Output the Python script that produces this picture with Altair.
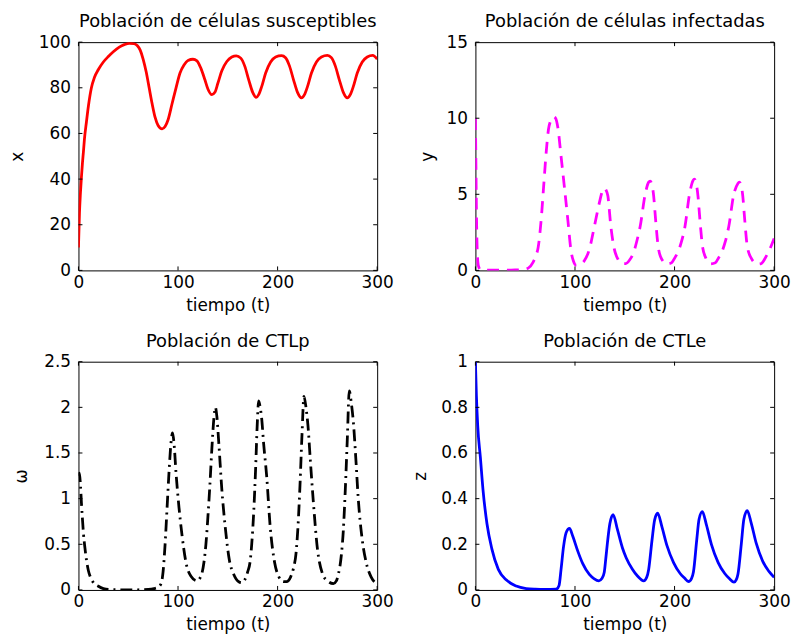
import altair as alt
import pandas as pd

# ---------------- data ----------------
# Panel 1: susceptible cells x(t)
t_x = [0, 1, 2, 3, 4, 5, 6, 8, 10, 13, 16, 20, 25, 30, 35, 41, 46, 51, 56, 59,
       62, 65, 68, 71, 74, 77, 80, 84, 87, 90, 94, 98, 102, 106, 110, 115, 119,
       123, 127, 130, 134, 137, 140, 144, 149, 154, 158.5, 163, 167, 171, 175,
       178.5, 181, 184, 188, 193, 198, 204, 208, 212, 216, 220, 224, 227, 230,
       234, 239, 244, 250, 254, 258, 262, 266, 270, 273, 276, 280, 285, 290,
       295.5, 300]
x_vals = [10, 25, 34, 41, 47, 52, 57.5, 65, 72, 80, 84.5, 88, 91.3, 93.7, 95.8,
          97.8, 98.9, 99.5, 99.3, 98.5, 96.5, 92.5, 87, 80, 73, 67, 63.5, 62, 63,
          66, 73, 80, 86.5, 90, 92, 92.5, 91.8, 88.5, 83.5, 79.5, 77, 78, 82,
          87.5, 91.5, 93.5, 94, 93, 89.5, 83.5, 78, 75.8, 77, 80.5, 86.5, 91.3,
          93.5, 94.1, 93.2, 89.5, 83.5, 78, 75.6, 77, 80.5, 86.5, 91.3, 93.5,
          94.2, 93.2, 89.5, 83.5, 78, 75.6, 77, 80.5, 86.5, 91.3, 93.5, 94.2,
          92.6]

# Panel 2: infected cells y(t)
t_y = [0, 0.5, 1, 1.5, 2, 3, 5, 10, 20, 30, 40, 48, 53, 58, 61, 63, 66, 68.5,
       71, 74, 78.5, 80.5, 83, 86, 89.5, 93, 96, 98.5, 101, 105, 109.5, 114.5,
       119.5, 124.5, 128, 129.5, 131, 133, 136, 139.5, 143, 147, 151, 155, 159,
       162, 165.5, 170.5, 174, 175.5, 177, 179, 181, 183.5, 187, 192.5, 197,
       200, 204, 207, 210.5, 215, 218.5, 220, 221.5, 223.5, 225.5, 228, 231.5,
       236, 241, 244, 248, 251, 254.5, 259.5, 263.5, 265, 266.5, 268.5, 270.5,
       273, 277, 283, 287, 291, 295, 300]
y_vals = [10, 7, 4, 2, 1, 0.3, 0.05, 0.02, 0.01, 0.01, 0.03, 0.06, 0.15, 0.55,
          1.0, 1.5, 3.3, 5.5, 7.7, 9.5, 10.1, 10.0, 9.3, 7.5, 5.4, 3.2, 1.3, 0.6,
          0.35, 0.4, 0.65, 1.4, 2.9, 4.45, 5.3, 5.4, 5.3, 4.9, 2.9, 1.4, 0.75,
          0.45, 0.45, 0.7, 1.2, 1.9, 2.9, 5.0, 5.8, 5.87, 5.7, 4.9, 3.3, 1.6,
          0.75, 0.43, 0.5, 0.8, 1.3, 1.9, 2.9, 5.0, 5.9, 6.0, 5.8, 4.9, 3.3, 1.6,
          0.8, 0.43, 0.5, 0.8, 1.3, 1.9, 2.9, 5.0, 5.7, 5.8, 5.7, 4.9, 3.3, 1.6,
          0.8, 0.42, 0.45, 0.8, 1.3, 2.1]

# Panel 3: CTLp w(t)
t_w = [0, 1, 2, 3, 4, 5, 6.5, 8, 10, 12, 15, 20, 25, 30, 40, 50, 60, 70, 76,
       80, 83, 85, 87, 89, 91, 93, 94.5, 96, 98, 101, 104, 108, 113, 119, 123,
       126, 128, 130, 132, 134, 136, 137.5, 139, 141, 144, 147.5, 151.5, 156,
       161, 164, 167, 170, 172.5, 174, 176, 178, 179.5, 181, 182.5, 184, 186,
       189, 192.5, 197, 201, 206, 209, 213, 216, 218.5, 220.5, 222.5, 224.5,
       226.5, 228.5, 230.5, 233, 236, 240, 245, 250, 256, 259, 261, 264, 266,
       268, 270, 272, 274, 276, 278.5, 281, 285, 289, 294, 300]
w_vals = [1.25, 1.28, 1.15, 0.95, 0.78, 0.62, 0.46, 0.33, 0.21, 0.14, 0.08,
          0.04, 0.015, 0.005, 0.002, 0.001, 0.002, 0.005, 0.015, 0.03, 0.07,
          0.2, 0.5, 0.9, 1.3, 1.62, 1.72, 1.6, 1.28, 0.9, 0.6, 0.3, 0.15, 0.1,
          0.15, 0.3, 0.5, 0.8, 1.15, 1.55, 1.88, 2.0, 1.9, 1.6, 1.1, 0.68, 0.33,
          0.17, 0.09, 0.08, 0.11, 0.2, 0.32, 0.5, 0.85, 1.35, 1.8, 2.07, 2.0,
          1.88, 1.6, 1.25, 0.7, 0.3, 0.15, 0.09, 0.09, 0.14, 0.24, 0.4, 0.7,
          1.15, 1.7, 2.12, 2.0, 1.8, 1.4, 0.95, 0.45, 0.18, 0.1, 0.07, 0.1,
          0.17, 0.38, 0.65, 1.1, 1.65, 2.18, 2.05, 1.85, 1.45, 1.0, 0.55, 0.3,
          0.14, 0.07]

# Panel 4: CTLe z(t)
t_z = [0, 1, 2.3, 5, 7.6, 11.6, 16.5, 23, 31.5, 41, 51, 60, 70, 81, 84, 86,
       88.5, 91, 94.5, 97.8, 102.8, 107.8, 114.4, 119, 124, 127, 129.4, 131,
       132.6, 135, 138.3, 142.6, 147.6, 151.5, 157.5, 163, 169, 172, 174,
       177.4, 180, 183, 187.4, 192.3, 199, 205.6, 210, 214, 217, 219, 222.3,
       224.6, 227.9, 232, 237, 243.8, 250.4, 255, 259.7, 262, 263.7, 267,
       269.6, 273, 277, 282, 288.6, 295, 300]
z_vals = [1.0, 0.85, 0.72, 0.58, 0.44, 0.29, 0.18, 0.09, 0.042, 0.017, 0.006,
          0.003, 0.002, 0.003, 0.02, 0.09, 0.19, 0.25, 0.27, 0.235, 0.17,
          0.115, 0.068, 0.05, 0.04, 0.05, 0.078, 0.14, 0.207, 0.29, 0.33,
          0.265, 0.185, 0.14, 0.092, 0.06, 0.04, 0.055, 0.09, 0.22, 0.307,
          0.336, 0.275, 0.195, 0.12, 0.072, 0.052, 0.037, 0.05, 0.08, 0.22,
          0.31, 0.343, 0.285, 0.2, 0.12, 0.072, 0.05, 0.034, 0.045, 0.07,
          0.2, 0.31, 0.348, 0.293, 0.205, 0.125, 0.08, 0.055]

x_ticks = [0, 100, 200, 300]
ticks_x = [0, 20, 40, 60, 80, 100]
ticks_y = [0, 5, 10, 15]
ticks_w = [0, 0.5, 1, 1.5, 2, 2.5]
ticks_z = [0, 0.2, 0.4, 0.6, 0.8, 1]

titles = ["Población de células susceptibles", "Población de células infectadas",
          "Población de CTLp", "Población de CTLe"]
ylabels = ["x", "y", "ω", "z"]

# ---------------- styling ----------------
W, H = 301, 230
FONT = "DejaVu Sans"
TICK = 4


def panel(t, v, title, ylab, ymax, yticks, color, dash, ytp):
    df = pd.DataFrame({"t": t, "v": v})
    xs = alt.Scale(domain=[0, 300], nice=False, zero=False, padding=0)
    ys = alt.Scale(domain=[0, ymax], nice=False, zero=False, padding=0)
    common = dict(labelFont=FONT, labelFontSize=17, labelColor="black",
                  titleFont=FONT, titleFontSize=17, titleFontWeight="normal",
                  titleColor="black", ticks=False, tickSize=0, domain=False,
                  grid=False, format="~f", labelFlush=False, labelOverlap=False)
    xax = alt.Axis(values=x_ticks, title="tiempo (t)", labelPadding=4,
                   titlePadding=7, **common)
    yax = alt.Axis(values=yticks, title=ylab, labelPadding=8, titlePadding=ytp,
                   **common)
    kw = dict(color=color, strokeWidth=2.8, interpolate="monotone", clip=True)
    if dash:
        kw["strokeDash"] = dash
    line = alt.Chart(df).mark_line(**kw).encode(
        x=alt.X("t:Q", scale=xs, axis=xax),
        y=alt.Y("v:Q", scale=ys, axis=yax),
    )
    xt = pd.DataFrame({"v": x_ticks})
    yt = pd.DataFrame({"v": yticks})
    rk = dict(color="black", strokeWidth=1)
    bottom = alt.Chart(xt).mark_rule(**rk).encode(
        x=alt.X("v:Q", scale=xs, axis=xax), y=alt.value(H), y2=alt.value(H - TICK))
    top = alt.Chart(xt).mark_rule(**rk).encode(
        x=alt.X("v:Q", scale=xs, axis=xax), y=alt.value(0), y2=alt.value(TICK))
    left = alt.Chart(yt).mark_rule(**rk).encode(
        y=alt.Y("v:Q", scale=ys, axis=yax), x=alt.value(0), x2=alt.value(TICK))
    right = alt.Chart(yt).mark_rule(**rk).encode(
        y=alt.Y("v:Q", scale=ys, axis=yax), x=alt.value(W - TICK), x2=alt.value(W))
    return alt.layer(line, bottom, top, left, right).properties(
        width=W, height=H,
        title=alt.TitleParams(title, font=FONT, fontSize=18, fontWeight="normal",
                              color="black", anchor="middle", baseline="bottom",
                              offset=-16, frame="group"),
    )


p1 = panel(t_x, x_vals, titles[0], ylabels[0], 100, ticks_x, "#ff0000", None, 12)
p2 = panel(t_y, y_vals, titles[1], ylabels[1], 15, ticks_y, "#ff00ff", [12, 8], 10)
p3 = panel(t_w, w_vals, titles[2], ylabels[2], 2.5, ticks_w, "#000000", [12, 5, 2, 5], 13)
p4 = panel(t_z, z_vals, titles[3], ylabels[3], 1, ticks_z, "#0000ff", None, 11)

chart = alt.concat(p1, p2, p3, p4, columns=2,
                   spacing={"row": 92, "column": 99}, bounds="flush").properties(
    padding={"left": 0, "top": 2, "right": 0, "bottom": 0}, background="white"
).configure_view(stroke="black", strokeWidth=1)

chart.save("out.html", embed_options={"renderer": "svg", "actions": False})
